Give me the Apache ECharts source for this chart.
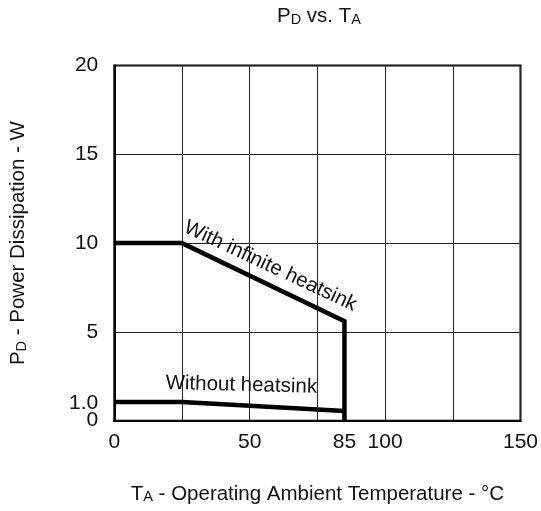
<!DOCTYPE html>
<html>
<head>
<meta charset="utf-8">
<script src="https://cdn.jsdelivr.net/npm/echarts@6/dist/echarts.min.js"></script>
<style>
  html, body { margin: 0; padding: 0; background: #fff; }
  #main { width: 541px; height: 511px; }
</style>
</head>
<body>
<div id="main"></div>
<script>
// ---- data ----
const xTickLabels = [0, 50, 85, 100, 150];
const yTickLabels = [0, 1, 5, 10, 15, 20];
const withHeatsink = [[0, 10], [25, 10], [85, 5.6], [85, 0]];
const withoutHeatsink = [[0, 1.05], [25, 1.05], [85, 0.55]];
const withLabel = { text: 'With infinite heatsink', coord: [57.6, 8.7], rotate: -25 };
const withoutLabel = { text: 'Without heatsink', coord: [46.9, 2.0], rotate: -1.5 };

const FONT = '"Liberation Sans", Arial, sans-serif';
const TXT = '#111';
const FS = 20.5;
const SUB = 14.5;

const chart = echarts.init(document.getElementById('main'), null, { renderer: 'canvas' });

function annot(l) {
  return {
    symbol: 'circle', symbolSize: 0,
    data: [{
      coord: l.coord,
      label: {
        show: true, position: 'inside', formatter: l.text, rotate: l.rotate,
        fontFamily: FONT, fontSize: FS, color: TXT
      }
    }]
  };
}

function richStyle() {
  return {
    fontFamily: FONT, color: TXT, fontWeight: 'normal',
    rich: {
      m: { fontFamily: FONT, fontSize: FS, color: TXT, fontWeight: 'normal', verticalAlign: 'bottom', lineHeight: 22 },
      s: { fontFamily: FONT, fontSize: SUB, color: TXT, fontWeight: 'normal', verticalAlign: 'bottom', lineHeight: 22 }
    }
  };
}

// split y labels over two overlaid axes so neighbouring ones are both drawn
const yMainLabels = yTickLabels.filter(v => v !== 1);
const yAuxLabels = yTickLabels.filter(v => v === 1);
const yLabelFmt = v => (v === 1 ? '1.0' : String(v));

const option = {
  animation: false,
  backgroundColor: '#fff',
  title: {
    text: '{m|P}{s|D}{m| vs. T}{s|A}',
    left: 277, top: 5, padding: 0,
    textStyle: richStyle()
  },
  grid: {
    left: 114.3, right: 19.5, top: 65.5, bottom: 90.3,
    show: true, borderColor: '#000', borderWidth: 2, backgroundColor: 'transparent'
  },
  xAxis: {
    type: 'value', min: 0, max: 150, interval: 25,
    name: '{m|T}{s|A}{m| - Operating Ambient Temperature - °C}',
    nameLocation: 'middle', nameGap: 62,
    nameTextStyle: richStyle(),
    axisLine: { show: true, onZero: false, lineStyle: { color: '#000', width: 2 } },
    axisTick: { show: false },
    axisLabel: {
      customValues: xTickLabels, margin: 11, hideOverlap: false,
      showMinLabel: true, showMaxLabel: true,
      fontFamily: FONT, fontSize: 21, color: TXT
    },
    splitLine: { show: true, lineStyle: { color: '#222', width: 1 } }
  },
  yAxis: [
    {
      type: 'value', min: 0, max: 20, interval: 5, position: 'left',
      name: '{m|P}{s|D}{m| - Power Dissipation - W}',
      nameLocation: 'middle', nameGap: 85, nameRotate: 90,
      nameTextStyle: richStyle(),
      axisLine: { show: true, onZero: false, lineStyle: { color: '#000', width: 2 } },
      axisTick: { show: false },
      axisLabel: {
        customValues: yMainLabels, margin: 16, hideOverlap: false,
        showMinLabel: true, showMaxLabel: true,
        fontFamily: FONT, fontSize: 21, color: TXT, formatter: yLabelFmt
      },
      splitLine: { show: true, lineStyle: { color: '#222', width: 1 } }
    },
    {
      type: 'value', min: 0, max: 20, interval: 5, position: 'left', offset: 0,
      axisLine: { show: false, onZero: false },
      axisTick: { show: false },
      axisLabel: {
        customValues: yAuxLabels, margin: 16, hideOverlap: false,
        showMinLabel: true, showMaxLabel: true,
        fontFamily: FONT, fontSize: 21, color: TXT, formatter: yLabelFmt
      },
      splitLine: { show: false }
    }
  ],
  series: [
    {
      name: 'With infinite heatsink', type: 'line', data: withHeatsink,
      symbol: 'none', lineStyle: { color: '#000', width: 4.5, join: 'miter' },
      markPoint: annot(withLabel), z: 5
    },
    {
      name: 'Without heatsink', type: 'line', data: withoutHeatsink,
      symbol: 'none', lineStyle: { color: '#000', width: 4.5 },
      markPoint: annot(withoutLabel), z: 5
    }
  ]
};
chart.setOption(option);
</script>
</body>
</html>
